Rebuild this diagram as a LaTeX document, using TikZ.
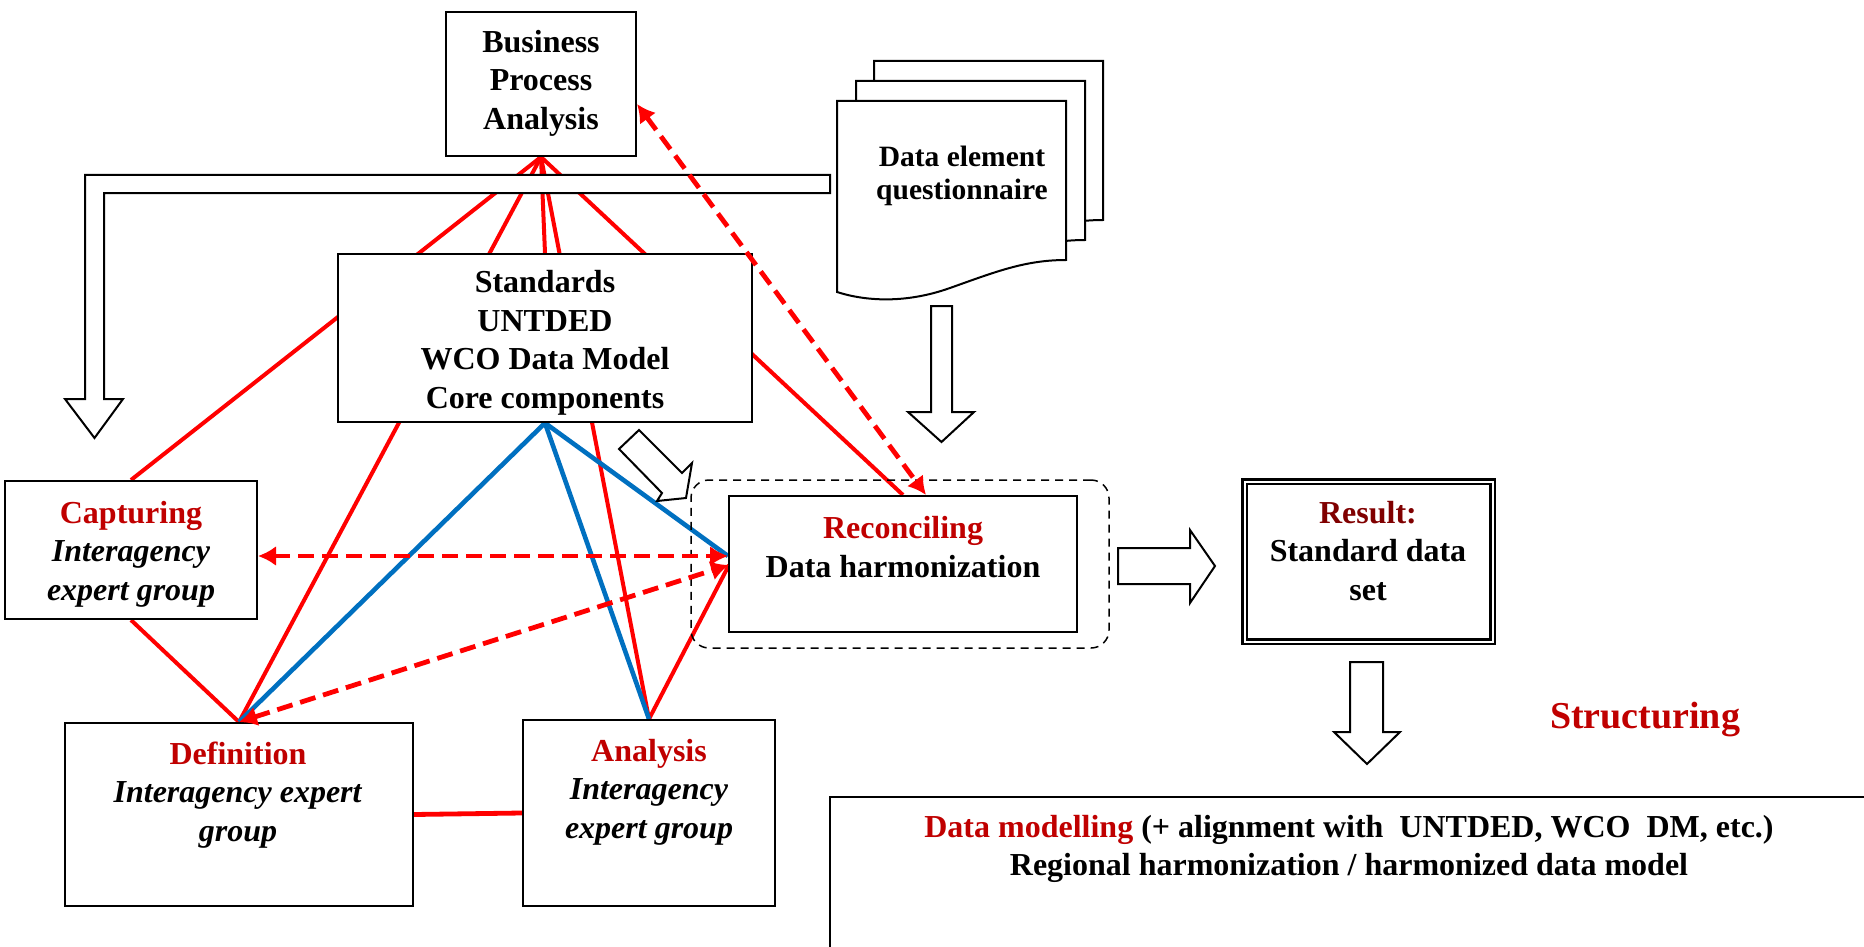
\documentclass[tikz,border=0pt]{standalone}
\usepackage{fontspec}
\setmainfont{Liberation Serif}
\usetikzlibrary{arrows.meta,calc}
\definecolor{rl}{RGB}{255,0,0}
\definecolor{bl}{RGB}{0,112,192}
\definecolor{dr}{RGB}{192,0,0}
\definecolor{mr}{RGB}{128,0,0}
\tikzset{
  box/.style={draw=black, line width=1pt, fill=white, inner sep=0pt},
  txt/.style={font=\fontsize{16}{19.25}\selectfont\bfseries, align=center, inner sep=0pt},
  redline/.style={draw=rl, line width=2pt},
  blueline/.style={draw=bl, line width=2.3pt},
  reddash/.style={draw=rl, line width=2.4pt, dash pattern=on 8pt off 4pt,
    {Latex[length=9pt,width=10pt]}-{Latex[length=9pt,width=10pt]}},
  hollow/.style={draw=black, line width=1pt, fill=white, line join=miter},
  docpg/.style={draw=black, line width=1pt, fill=white},
}
\begin{document}
\begin{tikzpicture}[x=0.5pt,y=-0.5pt]
\useasboundingbox (0,0) rectangle (1864,947);
\clip (0,0) rectangle (1864,947);
\fill[white] (0,0) rectangle (1864,947);

% ---- box nodes (positions) ----
\node[box, minimum width=95pt, minimum height=72pt] (bpa) at (541,84) {};
\node[box, minimum width=207pt, minimum height=84pt] (std) at (545,338) {};
\node[box, minimum width=126pt, minimum height=69pt] (cap) at (131,550) {};
\node[box, minimum width=174pt, minimum height=91.5pt] (def) at (239,814.5) {};
\node[box, minimum width=126pt, minimum height=93pt] (ana) at (649,813) {};
\node[box, minimum width=174pt, minimum height=68pt] (rec) at (903,564) {};

\coordinate (recA) at ($(rec.west)+(0,-8)$);
\coordinate (recB) at ($(rec.west)+(1,1)$);
\coordinate (capE) at ($(cap.east)+(0,6)$);
\coordinate (bpaE) at ($(bpa.east)+(0,20)$);
\coordinate (recT) at ($(rec.north)+(23,0)$);

% ---- solid red and blue connectors (drawn under the boxes) ----
\draw[redline] (bpa.south) -- (cap.north);
\draw[redline] (bpa.south) -- (def.north);
\draw[redline] (bpa.south) -- (std.north);
\draw[redline] (bpa.south) -- (ana.north);
\draw[redline] (bpa.south) -- (rec.north);
\draw[redline] (cap.south) -- (def.north);
\draw[redline] (ana.north) -- (recB);
\draw[redline, line width=2.4pt] (def.east) -- (ana.west);
\draw[blueline] (std.south) -- (def.north);
\draw[blueline] (std.south) -- (ana.north);
\draw[blueline] (std.south) -- (recA);

% ---- redraw boxes on top ----
\node[box, minimum width=95pt, minimum height=72pt] at (bpa) {};
\node[box, minimum width=207pt, minimum height=84pt] at (std) {};
\node[box, minimum width=126pt, minimum height=69pt] at (cap) {};
\node[box, minimum width=174pt, minimum height=91.5pt] at (def) {};
\node[box, minimum width=126pt, minimum height=93pt] at (ana) {};
\node[box, minimum width=174pt, minimum height=68pt] at (rec) {};

% dashed group around reconciling
\node[draw=black, line width=0.75pt, dash pattern=on 4pt off 3pt, rounded corners=9pt,
      minimum width=209pt, minimum height=84pt, inner sep=0pt] (grp) at (900,564) {};

% result box (double border)
\node[draw=black, line width=1.2pt, double, double distance=1pt, fill=white,
      minimum width=124pt, minimum height=80pt, inner sep=0pt] (res) at (1368.5,561.5) {};

% bottom box (runs off the picture)
\draw[black, line width=1.25pt] (830,990) -- (830,797) -- (1900,797);

% ---- document stack ----
\begin{scope}[shift={(37,-40)}]
\draw[docpg] (837,101) -- (1066,101) -- (1066,260) .. controls (1025,260) and (995,272) .. (950,288) .. controls (905,304) and (865,301) .. (837,292) -- cycle;
\end{scope}
\begin{scope}[shift={(19,-20)}]
\draw[docpg] (837,101) -- (1066,101) -- (1066,260) .. controls (1025,260) and (995,272) .. (950,288) .. controls (905,304) and (865,301) .. (837,292) -- cycle;
\end{scope}
\draw[docpg] (837,101) -- (1066,101) -- (1066,260) .. controls (1025,260) and (995,272) .. (950,288) .. controls (905,304) and (865,301) .. (837,292) -- cycle;

% ---- hollow block arrows ----
\draw[hollow] (830,175) -- (85,175) -- (85,399) -- (65,399) -- (94.5,438) -- (123,399) -- (104,399) -- (104,193) -- (830,193) -- cycle;
\draw[hollow] (931,306) -- (952,306) -- (952,412) -- (974,412) -- (941.5,442) -- (908,412) -- (931,412) -- cycle;
\draw[hollow] (639,430) -- (682,473) -- (692,463) -- (686,498) -- (657,501) -- (662,493) -- (619,449) -- cycle;
\draw[hollow] (1118,548) -- (1190,548) -- (1190,530) -- (1215,566) -- (1190,603) -- (1190,584) -- (1118,584) -- cycle;
\draw[hollow] (1350,662) -- (1383,662) -- (1383,732) -- (1400,732) -- (1367,764) -- (1334,732) -- (1350,732) -- cycle;

% ---- dashed red double arrows ----
\draw[reddash] (capE) -- (recA);
\draw[reddash] (def.north) -- (recB);
\draw[reddash] (bpaE) -- (recT);

% ---- texts ----
\node[txt] (bpaT) at (541,83) {Business\\Process\\Analysis};
\node[txt] (stdT) at (545,343) {Standards\\UNTDED\\WCO Data Model\\Core components};
\node[txt] (capT) at (131,554) {\textcolor{dr}{Capturing}\\\textit{Interagency}\\\textit{expert group}};
\node[txt] (defT) at (238,795) {\textcolor{dr}{Definition}\\\textit{Interagency expert}\\\textit{group}};
\node[txt] (anaT) at (649,792) {\textcolor{dr}{Analysis}\\\textit{Interagency}\\\textit{expert group}};
\node[txt] (recTx) at (903,547) {\textcolor{dr}{Reconciling}\\Data harmonization};
\node[txt] (resT) at (1368,551) {\textcolor{mr}{Result:}\\Standard data\\set};
\node[txt, font=\fontsize{14.75}{16.5}\selectfont\bfseries] (queT) at (962,176) {Data element\\questionnaire};
\node[txt] (dmT) at (1349,849) {\textcolor{dr}{Data modelling} (+ alignment with\ \ UNTDED, WCO\ \ DM, etc.)\\Regional harmonization / harmonized data model};
\node[txt, font=\fontsize{19}{22}\selectfont\bfseries, text=dr] (strT) at (1645,720) {Structuring};
\end{tikzpicture}
\end{document}
